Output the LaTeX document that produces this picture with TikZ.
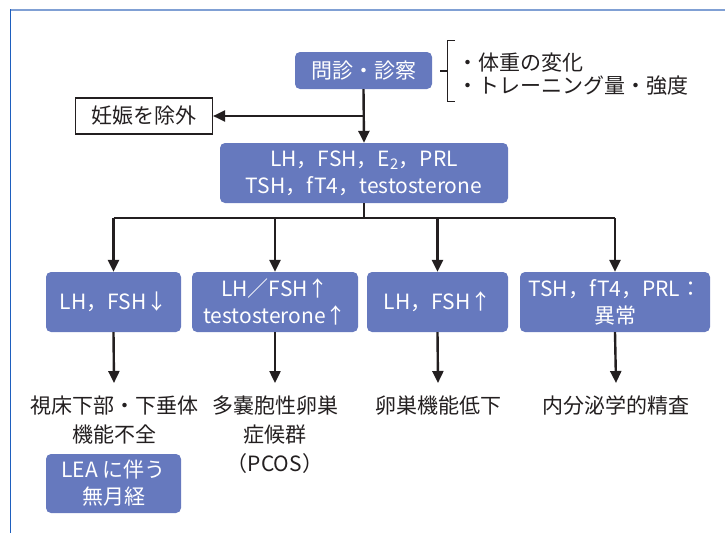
\documentclass[tikz,border=0pt]{standalone}
\usepackage{fontspec}
\setmainfont{Noto Sans CJK JP}
\usetikzlibrary{arrows.meta}
\definecolor{boxblue}{RGB}{102,121,190}
\definecolor{frametop}{RGB}{128,160,212}
\definecolor{frameleft}{RGB}{30,95,190}
\definecolor{ink}{RGB}{35,31,32}
\tikzset{
  bluebox/.style={fill=boxblue, rounded corners=5pt, text=white, align=center,
    inner sep=0pt, font=\fontsize{21}{27}\selectfont},
  whitebox/.style={draw=ink, line width=1.1pt, fill=white, text=ink, inner sep=0pt,
    font=\fontsize{21}{24}\selectfont},
  plain/.style={text=ink, align=center, inner sep=0pt, anchor=north,
    font=\fontsize{21}{29}\selectfont},
  arr/.style={draw=ink, line width=2.4pt, -{Triangle[length=12pt,width=11pt]}},
  ln/.style={draw=ink, line width=2.4pt},
}
\begin{document}
\begin{tikzpicture}[x=1pt,y=-1pt]
\useasboundingbox (0,0) rectangle (725,533);
% frame
\draw[frametop, line width=2pt] (10,9.5) -- (725,9.5);
\draw[frameleft, line width=1.5pt] (10.5,9) -- (10.5,533);

% nodes
\node[bluebox, minimum width=137pt, minimum height=37pt] (q) at (363.5,70.5) {問診・診察};
\node[whitebox, minimum width=137pt, minimum height=36pt] (preg) at (144,116) {妊娠を除外};
\node[text=ink, align=left, anchor=west, inner sep=0pt, font=\fontsize{21}{23}\selectfont] (bt) at (457,74.5)
  {・体重の変化\\・トレーニング量・強度};
\node[bluebox, minimum width=288pt, minimum height=60pt] (lab) at (364,173)
  {LH，FSH，E\textsubscript{2}，PRL\\TSH，fT4，testosterone};

\node[bluebox, minimum width=135pt, minimum height=60pt] (b1) at (113.5,302) {LH，FSH↓};
\node[bluebox, minimum width=166pt, minimum height=60pt] (b2) at (275,302) {LH／FSH↑\\testosterone↑};
\node[bluebox, minimum width=141pt, minimum height=60pt] (b3) at (437.5,302) {LH，FSH↑};
\node[bluebox, minimum width=190pt, minimum height=60pt] (b4) at (615,302) {TSH，fT4，PRL：\\異常};

\node[plain] (t1) at (114,396) {視床下部・下垂体\\機能不全};
\node[plain] (t2) at (275,396) {多嚢胞性卵巣\\症候群\\（PCOS）};
\node[plain] (t3) at (438,396) {卵巣機能低下};
\node[plain] (t4) at (616,396) {内分泌学的精査};

\node[bluebox, minimum width=135pt, minimum height=59pt] (lea) at (113.5,483.5) {LEA に伴う\\無月経};

% brace
\draw[ink, line width=1.1pt] (455,40.5) -- (447.5,40.5) -- (447.5,101.5) -- (455,101.5);
\draw[ink, line width=1.1pt] (440,71) -- (447.5,71);

% connectors
\draw[arr] (q.south) -- (lab.north);
\draw[arr] (q.south |- preg.east) -- (preg.east);
\draw[ln] (lab.south) -- ++(0,15) coordinate (j);
\draw[ln] (j -| b1) -- (j -| b4);
\foreach \b in {b1,b2,b3,b4} {
  \draw[arr] (j -| \b) -- (\b.north);
}
\draw[arr] (b1.south) -- ([yshift=13pt]t1.north);
\draw[arr] (b2.south) -- ([yshift=13pt]t2.north);
\draw[arr] (b3.south) -- ([yshift=13pt]t3.north);
\draw[arr] (b4.south) -- ([yshift=13pt]t4.north);
\end{tikzpicture}
\end{document}
